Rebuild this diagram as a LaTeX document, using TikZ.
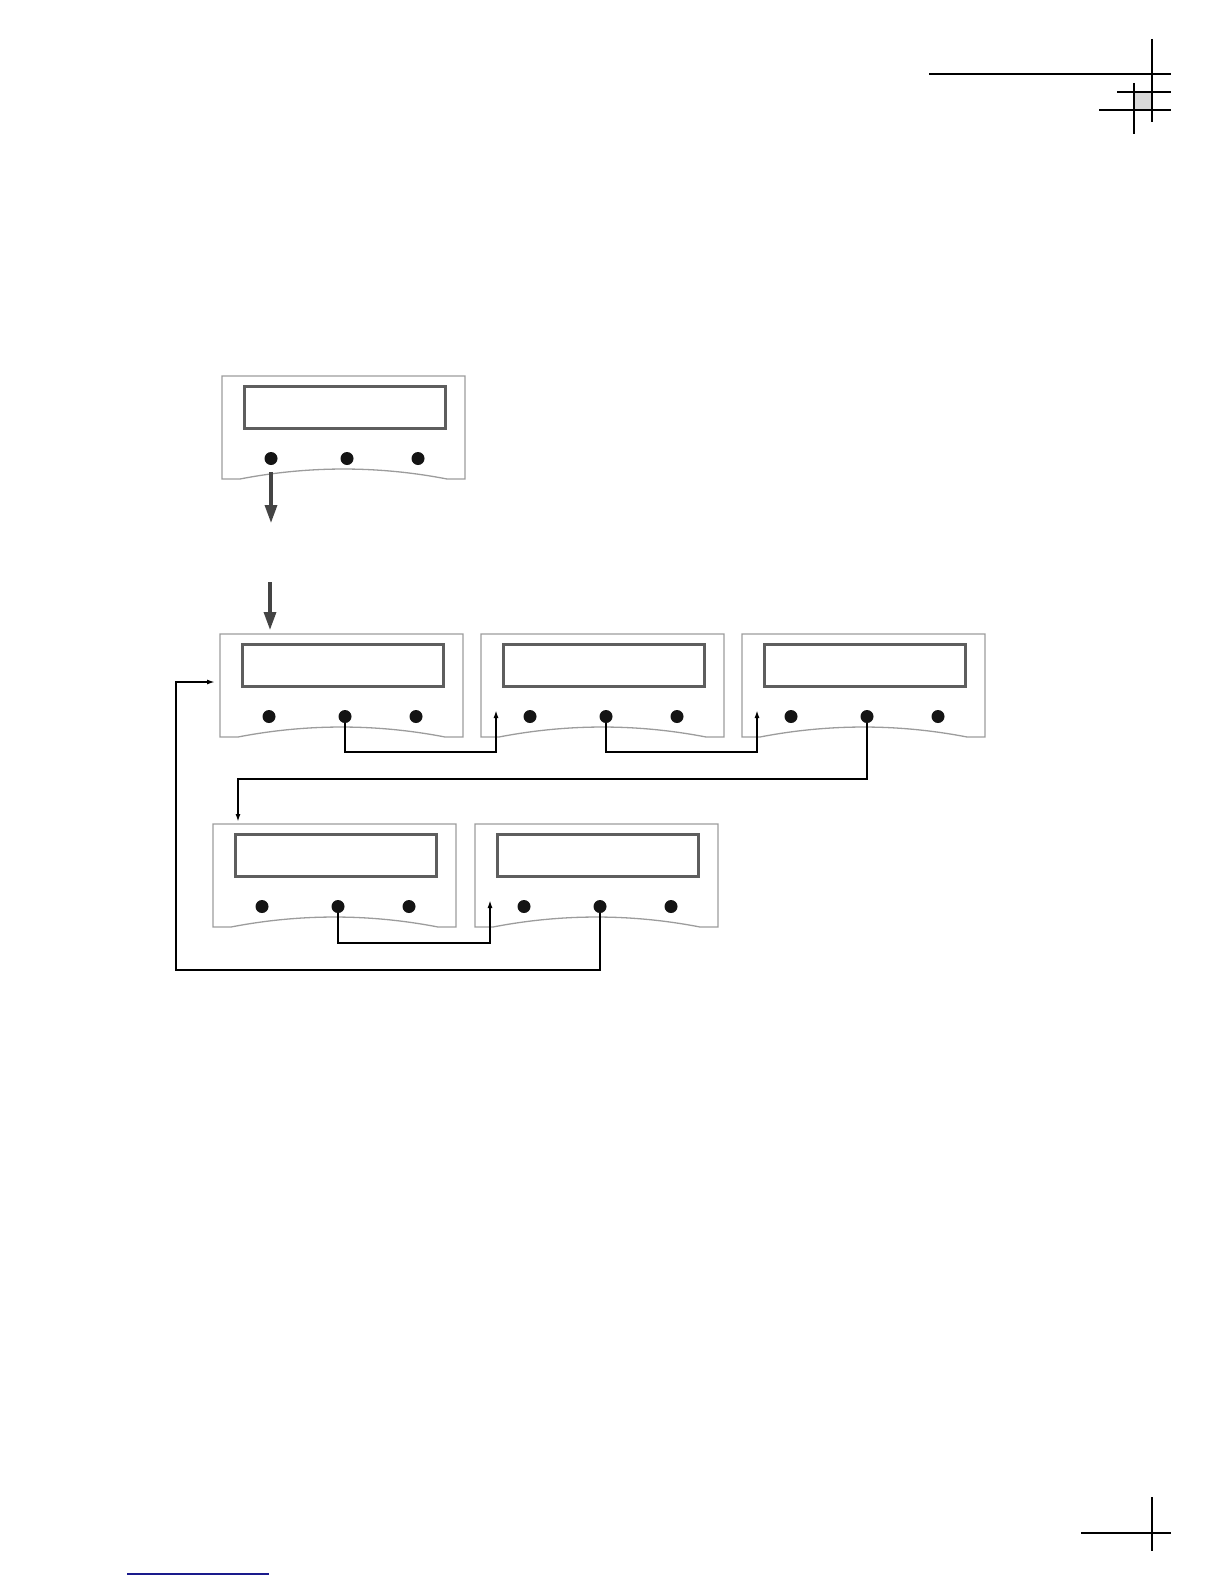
\documentclass[tikz,border=0pt]{standalone}
\usetikzlibrary{arrows.meta}

\definecolor{rimgray}{HTML}{9C9C9C}
\definecolor{screengray}{HTML}{5E5E5E}
\definecolor{feedgray}{HTML}{444444}
\definecolor{linkblue}{HTML}{1A1A8C}

\tikzset{
  panelline/.style={draw=rimgray, line width=1.3pt},
  screen/.style={rectangle, draw=screengray, line width=3pt, minimum width=201pt, minimum height=42pt, inner sep=0pt},
  knob/.style={circle, fill=black!92, minimum size=13pt, inner sep=0pt},
  link/.style={line width=1.8pt, -{Latex[length=8pt,width=5pt]}},
  feed/.style={draw=feedgray, line width=3.3pt, -{Triangle[length=18pt,width=12pt]}},
  cropline/.style={line width=1.3pt}
}

% one meter panel: name, left, top
\newcommand{\meterpanel}[3]{%
  \draw[panelline] ({#2+18},{#3+103}) -- ({#2},{#3+103}) -- ({#2},{#3}) -- ({#2+243},{#3})
    -- ({#2+243},{#3+103}) -- ({#2+225},{#3+103})
    .. controls ({#2+156.3},{#3+89.7}) and ({#2+86.7},{#3+89.7}) .. ({#2+18},{#3+103}) -- cycle;
  \node[screen] (#1s) at ({#2+123},{#3+31.5}) {};
  \node[knob] (#1k1) at ({#2+49},{#3+82.5}) {};
  \node[knob] (#1k2) at ({#2+125},{#3+82.5}) {};
  \node[knob] (#1k3) at ({#2+196},{#3+82.5}) {};
  \coordinate (#1in) at ({#2+15},{#3+76});
}

\begin{document}
\begin{tikzpicture}[x=1pt, y=-1pt]
    \useasboundingbox (0,0) rectangle (1224,1584);

    % Panels
    \meterpanel{A}{222}{376}
    \meterpanel{B}{220}{634}
    \meterpanel{C}{481}{634}
    \meterpanel{D}{742}{634}
    \meterpanel{E}{213}{824}
    \meterpanel{F}{475}{824}

    % Feed arrows
    \coordinate (Aout) at (271,523);
    \coordinate (Bfeed) at (270,582);
    \coordinate (Btop) at (270,630);
    \draw[feed] (Ak1.south) ++(0,7) -- (Aout);
    \draw[feed] (Bfeed) -- (Btop);

    % Links between panels
    \coordinate (Etop) at (238,822);
    \coordinate (Bside) at (215,682);
    \coordinate (loopleft) at (176,970);
    \draw[link] (Bk2.south) -- ++(0,29) -| (Cin);
    \draw[link] (Ck2.south) -- ++(0,29) -| (Din);
    \draw[link] (Dk2.south) -- ++(0,56) -| (Etop);
    \draw[link] (Ek2.south) -- ++(0,30) -| (Fin);
    \draw[link] (Fk2.south) |- (loopleft) |- (Bside);

    % Crop marks
    \fill[black!15] (1134,92) rectangle (1152,110);
    \draw[cropline] (929,74) -- (1171,74);
    \draw[cropline] (1152,39) -- (1152,122);
    \draw[cropline] (1117,92) -- (1171,92);
    \draw[cropline] (1099,110) -- (1171,110);
    \draw[cropline] (1134,83) -- (1134,134);
    \draw[cropline] (1081,1533) -- (1171,1533);
    \draw[cropline] (1152,1497) -- (1152,1551);

    % Underline at the foot
    \draw[linkblue, line width=1.2pt] (127,1574) -- (269,1574);
\end{tikzpicture}
\end{document}
